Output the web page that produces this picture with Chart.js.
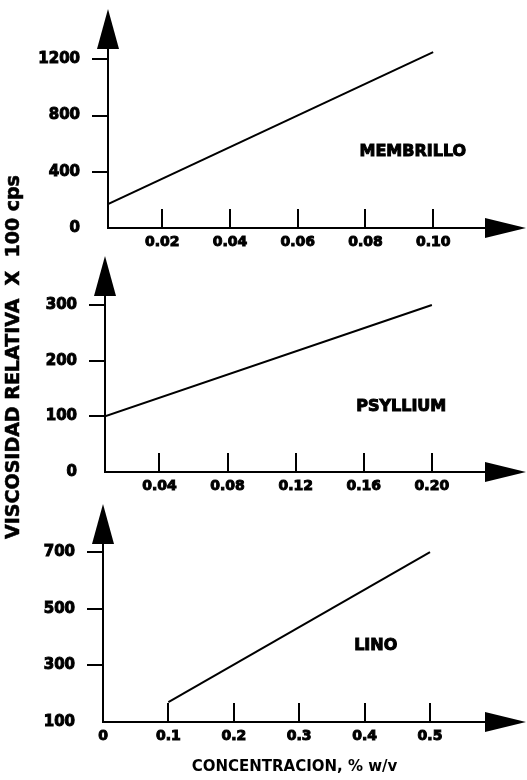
<!DOCTYPE html>
<html>
<head>
<meta charset="utf-8">
<script src="https://cdn.jsdelivr.net/npm/chart.js@4"></script>
<style>
  body { margin: 0; background: #fff; }
  #wrap { position: relative; width: 527px; height: 780px; overflow: hidden; }
  #wrap canvas { position: absolute; left: 0; }
  #ytitle {
    position: absolute; left: -189px; top: 347px; width: 400px; height: 20px;
    line-height: 20px; text-align: center; white-space: pre;
    font: bold 19px 'DejaVu Sans', sans-serif; color: #000;
    -webkit-text-stroke: 0.6px #000;
    transform: rotate(-90deg);
  }
</style>
</head>
<body>
<div id="wrap">
  <canvas id="membrillo" width="527" height="252" style="top:0"></canvas>
  <canvas id="psyllium" width="527" height="244" style="top:252px"></canvas>
  <canvas id="lino" width="527" height="284" style="top:496px"></canvas>
  <div id="ytitle">VISCOSIDAD RELATIVA  X  100 cps</div>
</div>
<script>
const FONT = "'DejaVu Sans', sans-serif";

// membrillo
const membrilloConc = [0.004, 0.10];
const membrilloVisc = [170, 1250];
const membrilloXTicks = [0.02, 0.04, 0.06, 0.08, 0.10];
const membrilloXLabels = ['0.02', '0.04', '0.06', '0.08', '0.10'];
const membrilloYTicks = [0, 400, 800, 1200];

// psyllium
const psylliumConc = [0.008, 0.20];
const psylliumVisc = [100, 300];
const psylliumXTicks = [0.04, 0.08, 0.12, 0.16, 0.20];
const psylliumXLabels = ['0.04', '0.08', '0.12', '0.16', '0.20'];
const psylliumYTicks = [0, 100, 200, 300];

// lino
const linoConc = [0.1, 0.5];
const linoVisc = [170, 700];
const linoXTicks = [0, 0.1, 0.2, 0.3, 0.4, 0.5];
const linoXLabels = ['0', '0.1', '0.2', '0.3', '0.4', '0.5'];
const linoYTicks = [100, 300, 500, 700];

// arrow heads, upward x tick marks and the series name
const axisDecor = {
    id: 'axisDecor',
    afterDraw(chart, args, opts) {
        const {ctx, chartArea: a, scales: {x, y}} = chart;
        ctx.save();
        ctx.fillStyle = '#000';
        ctx.strokeStyle = '#000';
        ctx.lineWidth = 2;
        opts.xTicks.forEach(v => {
            if (v <= x.min) return;
            const px = Math.round(x.getPixelForValue(v));
            ctx.beginPath();
            ctx.moveTo(px, a.bottom);
            ctx.lineTo(px, a.bottom - 19);
            ctx.stroke();
        });
        ctx.beginPath();
        ctx.moveTo(a.left - 11, a.top + 1);
        ctx.lineTo(a.left + 11, a.top + 1);
        ctx.lineTo(a.left, a.top - 39);
        ctx.closePath();
        ctx.fill();
        ctx.beginPath();
        ctx.moveTo(a.right - 1, a.bottom - 10);
        ctx.lineTo(a.right - 1, a.bottom + 10);
        ctx.lineTo(a.right + 40, a.bottom);
        ctx.closePath();
        ctx.fill();
        ctx.font = 'bold 16px ' + FONT;
        ctx.textAlign = 'center';
        ctx.textBaseline = 'middle';
        ctx.lineWidth = 1;
        const tx = x.getPixelForValue(opts.at[0]);
        const ty = y.getPixelForValue(opts.at[1]);
        ctx.strokeText(opts.name, tx, ty);
        ctx.fillText(opts.name, tx, ty);
        ctx.restore();
    }
};

function panel(id, p) {
    return new Chart(document.getElementById(id), {
        type: 'line',
        data: {
            datasets: [{
                data: p.conc.map((c, i) => ({x: c, y: p.visc[i]})),
                borderColor: '#000',
                borderWidth: 2,
                pointRadius: 0,
                tension: 0,
                fill: false
            }]
        },
        options: {
            responsive: false,
            animation: false,
            events: [],
            layout: {padding: {top: p.top, right: 41, left: 0, bottom: 0}},
            plugins: {
                legend: {display: false},
                tooltip: {enabled: false},
                axisDecor: {xTicks: p.xTicks, name: p.name, at: p.at}
            },
            scales: {
                x: {
                    type: 'linear',
                    min: p.xMin,
                    max: p.xMax,
                    afterBuildTicks: s => { s.ticks = p.xTicks.map(v => ({value: v})); },
                    afterFit: s => { s.height = p.xHeight; },
                    ticks: {
                        callback: (v, i) => p.xLabels[i],
                        font: {family: FONT, size: 14, weight: 'bold'},
                        color: '#000',
                        textStrokeColor: '#000',
                        textStrokeWidth: 1,
                        padding: 6,
                        maxRotation: 0,
                        autoSkip: false
                    },
                    grid: {display: false, drawTicks: false},
                    border: {display: true, color: '#000', width: 2},
                    title: p.xTitle ? {
                        display: true,
                        text: p.xTitle,
                        color: '#000',
                        font: {family: FONT, size: 15, weight: 'bold'},
                        padding: {top: 0, bottom: 4}
                    } : {display: false}
                },
                y: {
                    type: 'linear',
                    min: p.yMin,
                    max: p.yMax,
                    afterBuildTicks: s => { s.ticks = p.yTicks.map(v => ({value: v})); },
                    afterFit: s => { s.width = p.yWidth; },
                    ticks: {
                        callback: v => String(v),
                        font: {family: FONT, size: 15, weight: 'bold'},
                        color: '#000',
                        textStrokeColor: '#000',
                        textStrokeWidth: 1,
                        padding: 12
                    },
                    grid: {
                        drawOnChartArea: false,
                        tickLength: 16,
                        lineWidth: 2,
                        color: c => c.index === 0 ? 'rgba(0,0,0,0)' : '#000'
                    },
                    border: {display: true, color: '#000', width: 2}
                }
            }
        },
        plugins: [axisDecor]
    });
}

panel('membrillo', {
    conc: membrilloConc, visc: membrilloVisc,
    xTicks: membrilloXTicks, xLabels: membrilloXLabels, yTicks: membrilloYTicks,
    xMin: 0.004, xMax: 0.1156, yMin: 0, yMax: 1280,
    top: 48, xHeight: 24, yWidth: 108,
    name: 'MEMBRILLO', at: [0.094, 540]
});

panel('psyllium', {
    conc: psylliumConc, visc: psylliumVisc,
    xTicks: psylliumXTicks, xLabels: psylliumXLabels, yTicks: psylliumYTicks,
    xMin: 0.008, xMax: 0.2318, yMin: 0, yMax: 318,
    top: 43, xHeight: 24, yWidth: 105,
    name: 'PSYLLIUM', at: [0.182, 117]
});

panel('lino', {
    conc: linoConc, visc: linoVisc,
    xTicks: linoXTicks, xLabels: linoXLabels, yTicks: linoYTicks,
    xMin: 0, xMax: 0.5856, yMin: 100, yMax: 732,
    top: 47, xHeight: 58, yWidth: 103,
    xTitle: 'CONCENTRACION, % w/v',
    name: 'LINO', at: [0.417, 368]
});
</script>
</body>
</html>
